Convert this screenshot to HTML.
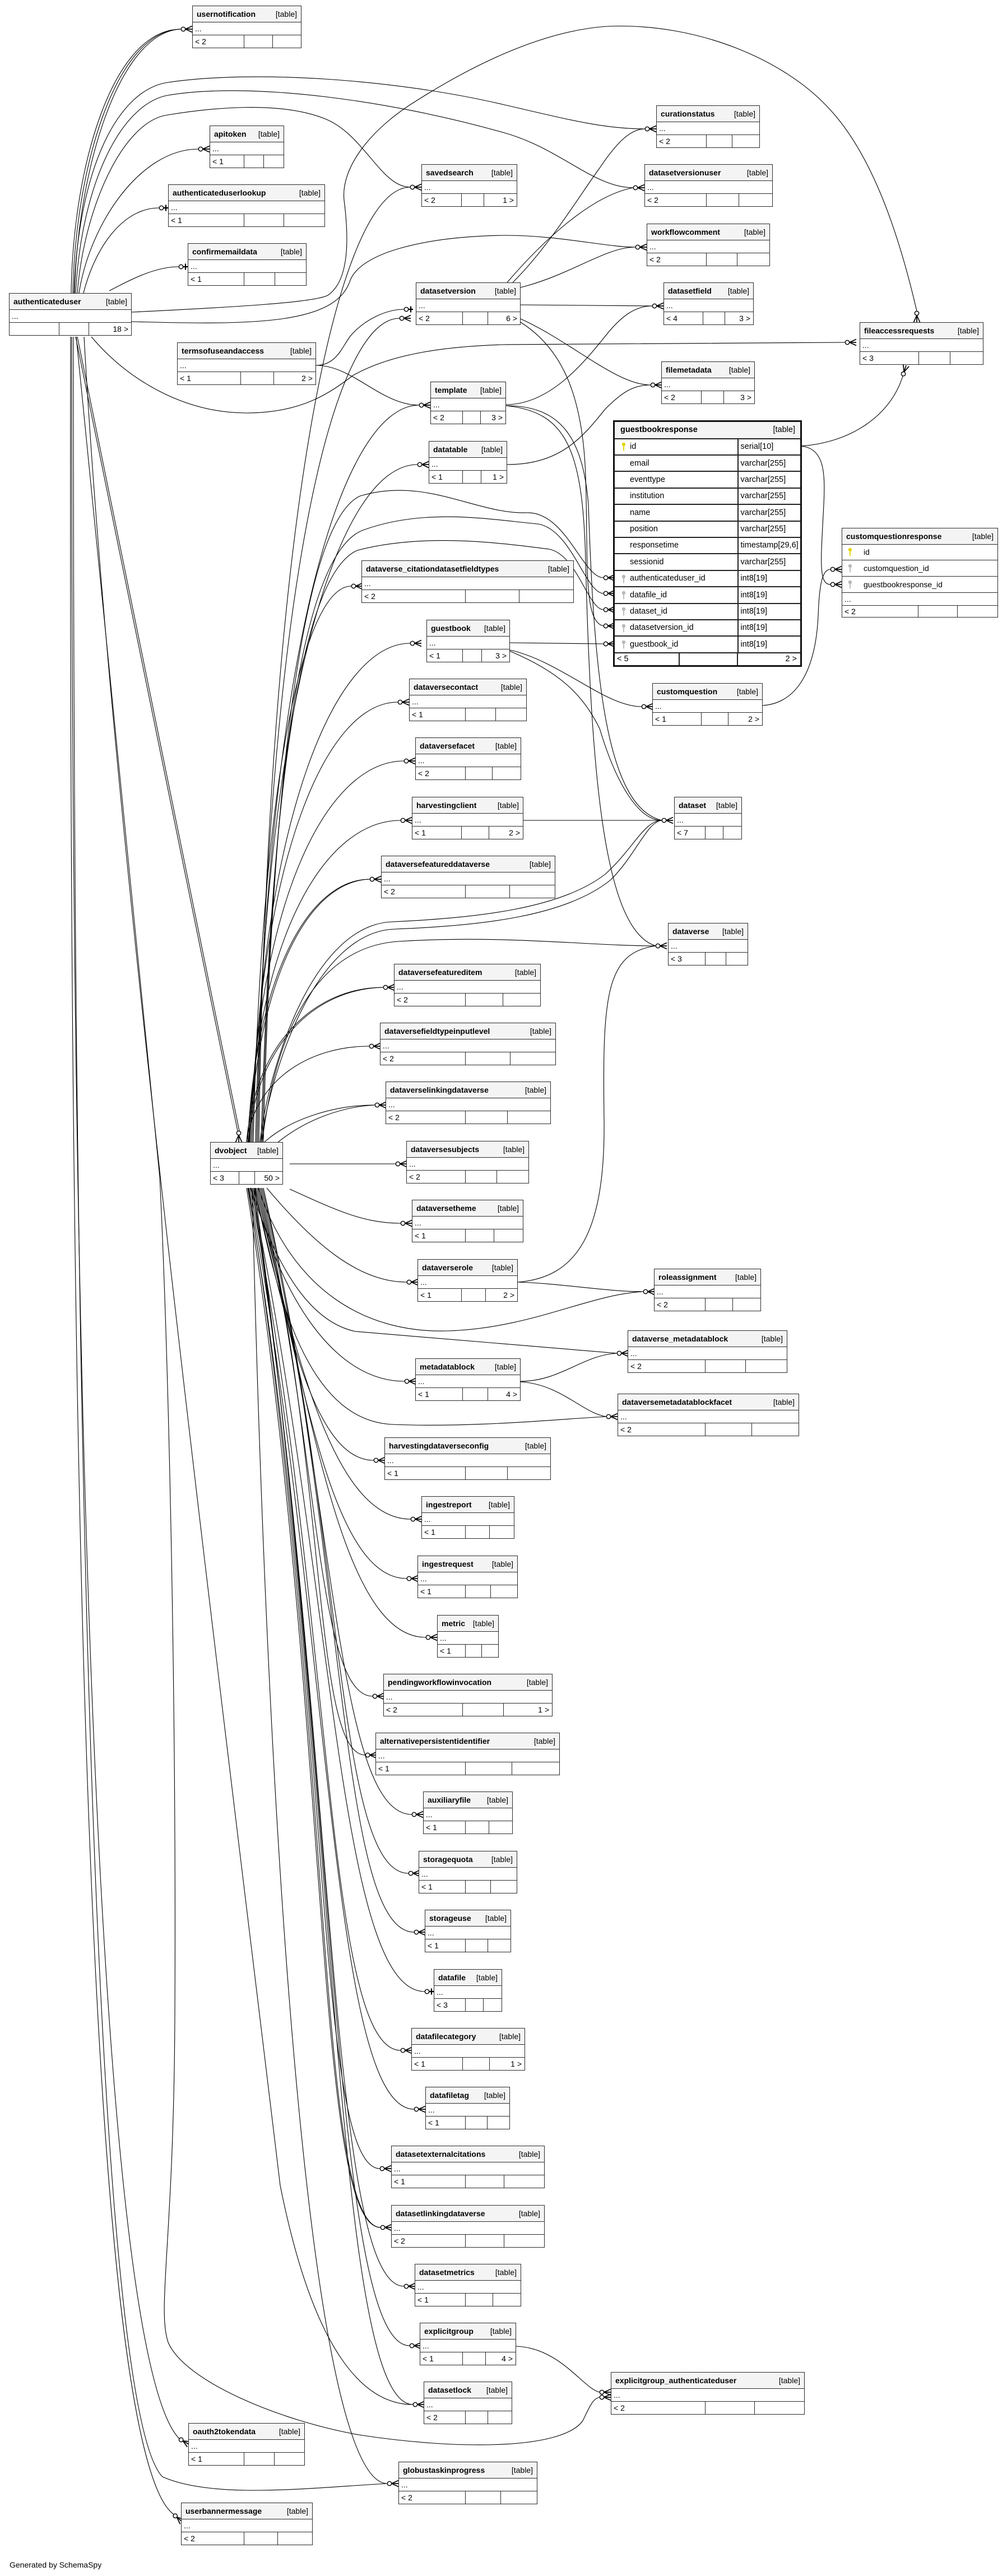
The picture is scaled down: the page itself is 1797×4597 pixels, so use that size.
<!DOCTYPE html>
<html><head><meta charset="utf-8"><style>
html,body{margin:0;padding:0}
body{width:1797px;height:4597px;position:relative;background:#fff;font-family:"Liberation Sans",Arial,sans-serif;overflow:hidden;color:#000}
svg.e{position:absolute;left:0;top:0;z-index:0}
.t{position:absolute;z-index:1;box-sizing:border-box;border:1.6px solid #2b2b2b;background:#fff;font-size:14px;line-height:1}
.h{height:27.5px;background:#f4f4f4;border-bottom:1.6px solid #2b2b2b;display:flex;justify-content:space-between;align-items:center;padding:0 7px;white-space:nowrap}
.h b{font-weight:bold}
.r{height:22px;border-bottom:1.6px solid #2b2b2b;padding-left:4px;display:flex;align-items:center}
.f{height:22px;display:flex}
.f i{font-style:normal;box-sizing:border-box;border-right:1.6px solid #2b2b2b;display:flex;align-items:center;padding-left:4px;flex:none;white-space:nowrap}
.f i:last-child{border-right:none;flex:1;justify-content:flex-end;padding-right:5px}
.ft{position:absolute;z-index:1;box-sizing:border-box;border:3px solid #111;background:#fff;font-size:14.5px;line-height:1}
.fh{height:28.7px;background:#f4f4f4;border-bottom:2px solid #222;display:flex;justify-content:space-between;align-items:center;padding:0 9px 0 10px}
.fr{height:27.4px;border-bottom:2px solid #222;display:flex}
.fr .c1{width:220.5px;box-sizing:border-box;border-right:2px solid #222;display:flex;align-items:center;padding-left:12px}
.fr .c2{flex:1;display:flex;align-items:center;padding-left:4px;white-space:nowrap}
.k{display:inline-block;width:8px;height:16px;margin-right:7px;flex:none}
.ff{height:21.6px;display:flex}
.ff i{font-style:normal;box-sizing:border-box;border-right:2px solid #222;display:flex;align-items:center;padding-left:4px;flex:none}
.ff i:last-child{border-right:none;flex:1;justify-content:flex-end;padding-right:6px}
.cq .rr{height:27.8px;border-bottom:1.6px solid #2b2b2b;display:flex;align-items:center;padding-left:10px}
.cq .rr .k{margin-right:20px}
.gen{position:absolute;left:17px;top:4569px;font-size:14px}
</style></head><body>

<svg class="e" width="1797" height="4597" viewBox="0 0 1797 4597" fill="none" stroke="#000" stroke-width="1.1">
<defs>
<g id="zm"><circle cx="-16" cy="0" r="3.7" fill="#fff" stroke-width="1.4"/><path d="M-12.3 0 L0 -5.5 M-12.3 0 L0 0 M-12.3 0 L0 5.5" stroke-width="1.7"/></g>
<g id="zo"><circle cx="-12" cy="0" r="3.7" fill="#fff" stroke-width="1.4"/><path d="M-8.3 0 H0 M-4 -5.5 V5.5" stroke-width="2.2"/></g>
</defs>
<!-- authenticateduser edges -->
<path d="M127 523 C130 300 200 52 323 52"/>
<path d="M130 523 C134 305 205 54 323 52"/>
<path d="M133 523 C138 310 210 57 323 52"/>
<path d="M141 523 C160 400 250 266 354 266"/>
<path d="M149 523 C170 440 220 371 284 371"/>
<path d="M195 519 C240 495 280 476 319 476"/>
<path d="M132 523 C140 300 210 160 300 147 C450 125 700 140 900 187 C1020 215 1080 230 1151 230"/>
<path d="M135 523 C145 330 215 185 300 170 C450 145 700 180 900 237 C1000 265 1060 335 1130 335"/>
<path d="M138 523 C150 370 220 215 300 205 C380 192 500 180 580 212 C650 240 680 334 732 334"/>
<path d="M235 557 C420 548 560 540 585 527 C625 500 622 420 614 357 C608 300 660 230 746 178 C830 125 960 55 1084 47 C1250 40 1400 110 1474 188 C1550 265 1600 400 1636 555"/>
<path d="M235 574 C450 580 600 580 625 500 C645 450 760 422 900 420 C1000 420 1080 441 1134 441"/>
<path d="M163 601 C230 680 330 737 440 737 C540 737 590 700 630 670 C700 630 800 618 900 615 C1100 612 1300 611 1508 611"/>
<path d="M135 601 L424 2018"/>
<path d="M138 601 L427 2018"/>
<path d="M136 601 L285 2100 C300 2400 315 3000 312 3600 C310 4000 280 4120 300 4180 C330 4250 500 4320 640 4345 C800 4370 1000 4375 1040 4320 C1052 4295 1058 4280 1070 4278"/>
<path d="M128 601 C126 2400 170 4200 320 4352"/>
<path d="M126 601 C122 2700 160 4380 310 4487"/>
<path d="M131 601 C130 2600 170 4300 290 4420 C380 4460 550 4440 691 4432"/>
<path d="M150 601 C200 1500 380 2900 500 3900 C560 4200 650 4291 737 4291"/>
<!-- termsofuseandaccess -->
<path d="M564 652 C600 652 610 620 625 600 C650 570 690 552 721 552"/>
<path d="M564 652 C630 652 680 723 748 723"/>
<!-- dvobject upper fan -->
<path d="M462 2038 C477 931 600 334 732 334"/>
<path d="M460 2038 C475 1083 589 568 713 568"/>
<path d="M458 2038 C473 1183 606 723 748 723"/>
<path d="M456 2038 C471 1252 603 829 745 829"/>
<path d="M452 2038 C467 1393 541 1046 627 1046"/>
<path d="M450 2038 C465 1460 598 1148 732 1148"/>
<path d="M448 2038 C463 1528 582 1253 710 1253"/>
<path d="M446 2038 C461 1596 586 1358 721 1358"/>
<path d="M444 2038 C459 1665 582 1464 715 1464"/>
<path d="M442 2038 C457 1733 554 1569 660 1569"/>
<path d="M445 2038 C460 1740 552 1572 660 1569"/>
<path d="M440 2038 C455 1859 564 1762 684 1762"/>
<path d="M443 2038 C458 1865 560 1765 684 1762"/>
<path d="M440 2038 C455 1927 552 1867 659 1867"/>
<path d="M472 2038 C520 1995 600 1972 669 1972"/>
<path d="M494 2040 C545 1998 610 1975 669 1972"/>
<path d="M464 2038 C480 1900 560 1650 700 1645 C850 1638 1000 1622 1080 1560 C1130 1515 1150 1464 1181 1464"/>
<path d="M466 2038 C484 1905 565 1662 705 1658 C860 1652 1010 1635 1090 1570 C1135 1525 1155 1466 1181 1464"/>
<path d="M468 2038 C490 1850 560 1690 711 1680 C900 1668 1050 1688 1170 1688"/>
<path d="M470 2038 C485 1400 540 930 643 885 C760 850 850 918 940 915 C1010 913 1040 1031 1077 1031"/>
<path d="M468 2038 C483 1450 530 990 648 946 C760 905 880 928 960 935 C1020 945 1045 1059 1077 1059"/>
<path d="M466 2038 C481 1500 525 1030 638 982 C760 950 900 970 980 980 C1030 990 1050 1088 1077 1088"/>
<!-- dvobject right side -->
<path d="M517 2077 L706 2077"/>
<path d="M517 2122 C600 2160 650 2183 715 2183"/>
<path d="M476 2120 C560 2220 640 2288 726 2288"/>
<path d="M461 2120 C520 2300 650 2380 800 2375 C950 2370 1050 2310 1148 2305"/>
<path d="M447 2120 C500 2280 560 2360 634 2376 L1101 2415"/>
<path d="M455 2120 C500 2350 560 2535 700 2542 C850 2548 1000 2532 1082 2528"/>
<!-- dvobject lower fan -->
<path d="M452 2120 C493 2292 587 2465 722 2465"/>
<path d="M454 2120 C512 2363 560 2606 667 2606"/>
<path d="M456 2120 C527 2415 594 2711 733 2711"/>
<path d="M458 2120 C542 2468 592 2817 726 2817"/>
<path d="M460 2120 C556 2521 610 2922 760 2922"/>
<path d="M462 2120 C571 2573 563 3027 665 3027"/>
<path d="M464 2120 C585 2626 558 3132 652 3132"/>
<path d="M466 2120 C600 2679 600 3238 735 3238"/>
<path d="M468 2120 C615 2731 598 3343 729 3343"/>
<path d="M470 2120 C620 2784 604 3448 739 3448"/>
<path d="M448 2120 C598 2837 603 3554 758 3554"/>
<path d="M446 2120 C596 2889 580 3659 715 3659"/>
<path d="M444 2120 C594 2942 591 3764 739 3764"/>
<path d="M442 2120 C592 2995 560 3870 678 3870"/>
<path d="M440 2120 C590 3047 560 3975 679 3975"/>
<path d="M443 2120 C593 3052 563 3972 679 3975"/>
<path d="M450 2120 C600 3100 585 4080 721 4080"/>
<path d="M452 2120 C602 3153 591 4186 731 4186"/>
<path d="M454 2120 C604 3205 595 4291 737 4291"/>
<path d="M450 2120 C480 3400 560 4432 691 4432"/>
<!-- other edges -->
<path d="M903 722 C980 722 1040 650 1080 600 C1110 562 1135 546 1164 546"/>
<path d="M903 724 C1000 724 1040 780 1050 900 C1060 1200 1080 1440 1181 1464"/>
<path d="M903 724 C1010 735 1040 800 1045 1000 C1055 1400 1080 1660 1170 1688"/>
<path d="M905 829 C1000 829 1040 780 1080 730 C1110 700 1130 687 1161 687"/>
<path d="M910 1147 L1077 1149"/>
<path d="M910 1160 C1000 1180 1080 1261 1145 1261"/>
<path d="M910 1162 C1000 1200 1040 1240 1070 1300 C1100 1400 1140 1464 1181 1464"/>
<path d="M934 1464 L1181 1464"/>
<path d="M915 504 C980 440 1040 340 1070 300 C1100 255 1125 230 1151 230"/>
<path d="M905 504 C960 440 1050 350 1130 335"/>
<path d="M929 513 C1020 490 1080 441 1134 441"/>
<path d="M929 544 L1164 546"/>
<path d="M929 569 C1020 610 1100 687 1161 687"/>
<path d="M929 575 C1000 620 1040 700 1045 850 C1050 1000 1040 1110 1077 1117"/>
<path d="M1429 796 C1520 790 1590 740 1611 671"/>
<path d="M1429 796 C1470 800 1473 840 1470 900 C1465 1000 1460 1043 1482 1043"/>
<path d="M1361 1259 C1420 1255 1455 1200 1460 1100 C1462 1040 1468 1016 1482 1016"/>
<path d="M924 2288 C1000 2290 1080 2305 1148 2305"/>
<path d="M924 2288 C1030 2280 1080 2200 1078 2000 C1075 1780 1080 1700 1170 1688"/>
<path d="M929 2465 C1000 2465 1040 2418 1101 2415"/>
<path d="M929 2466 C1000 2470 1040 2522 1082 2528"/>
<path d="M921 4187 C1000 4190 1040 4262 1070 4269"/>
<!-- markers -->
<use href="#zm" transform="translate(343,52)"/>
<use href="#zm" transform="translate(374,266)"/>
<use href="#zm" transform="translate(752,334)"/>
<use href="#zm" transform="translate(1171,230)"/>
<use href="#zm" transform="translate(1150,335)"/>
<use href="#zm" transform="translate(1154,441)"/>
<use href="#zm" transform="translate(733,568)"/>
<use href="#zm" transform="translate(1184,546)"/>
<use href="#zm" transform="translate(1528,611)"/>
<use href="#zm" transform="translate(1181,687)"/>
<use href="#zm" transform="translate(768,723)"/>
<use href="#zm" transform="translate(765,829)"/>
<use href="#zm" transform="translate(647,1046)"/>
<use href="#zm" transform="translate(752,1148)"/>
<use href="#zm" transform="translate(1165,1261)"/>
<use href="#zm" transform="translate(730,1253)"/>
<use href="#zm" transform="translate(741,1358)"/>
<use href="#zm" transform="translate(735,1464)"/>
<use href="#zm" transform="translate(1201,1464)"/>
<use href="#zm" transform="translate(680,1569)"/>
<use href="#zm" transform="translate(1190,1688)"/>
<use href="#zm" transform="translate(704,1762)"/>
<use href="#zm" transform="translate(679,1867)"/>
<use href="#zm" transform="translate(689,1972)"/>
<use href="#zm" transform="translate(726,2077)"/>
<use href="#zm" transform="translate(735,2183)"/>
<use href="#zm" transform="translate(746,2288)"/>
<use href="#zm" transform="translate(1168,2305)"/>
<use href="#zm" transform="translate(1121,2415)"/>
<use href="#zm" transform="translate(742,2465)"/>
<use href="#zm" transform="translate(1102,2528)"/>
<use href="#zm" transform="translate(687,2606)"/>
<use href="#zm" transform="translate(753,2711)"/>
<use href="#zm" transform="translate(746,2817)"/>
<use href="#zm" transform="translate(780,2922)"/>
<use href="#zm" transform="translate(685,3027)"/>
<use href="#zm" transform="translate(672,3132)"/>
<use href="#zm" transform="translate(755,3238)"/>
<use href="#zm" transform="translate(749,3343)"/>
<use href="#zm" transform="translate(759,3448)"/>
<use href="#zm" transform="translate(735,3659)"/>
<use href="#zm" transform="translate(759,3764)"/>
<use href="#zm" transform="translate(698,3870)"/>
<use href="#zm" transform="translate(699,3975)"/>
<use href="#zm" transform="translate(741,4080)"/>
<use href="#zm" transform="translate(751,4186)"/>
<use href="#zm" transform="translate(1090,4269)"/>
<use href="#zm" transform="translate(1090,4278)"/>
<use href="#zm" transform="translate(757,4291)"/>
<use href="#zm" transform="translate(711,4432)"/>
<use href="#zm" transform="translate(1097,1031)"/>
<use href="#zm" transform="translate(1097,1059)"/>
<use href="#zm" transform="translate(1097,1088)"/>
<use href="#zm" transform="translate(1097,1117)"/>
<use href="#zm" transform="translate(1097,1149)"/>
<use href="#zm" transform="translate(1502,1016)"/>
<use href="#zm" transform="translate(1502,1043)"/>
<use href="#zm" transform="translate(337,4362) rotate(30)"/>
<use href="#zm" transform="translate(325,4500) rotate(40)"/>
<use href="#zm" transform="translate(1636,575) rotate(90)"/>
<use href="#zm" transform="translate(1617,652) rotate(-72)"/>
<use href="#zm" transform="translate(426,2038) rotate(90)"/>
<use href="#zo" transform="translate(300,371)"/>
<use href="#zo" transform="translate(335,476)"/>
<use href="#zo" transform="translate(737,552)"/>
<use href="#zo" transform="translate(774,3554)"/>
</svg>

<div class="t" style="left:343px;top:10px;width:195px"><div class="h"><b>usernotification</b><span>[table]</span></div><div class="r">...</div><div class="f"><i style="width:92px">&lt; 2</i><i style="width:51px"></i><i></i></div></div>
<div class="t" style="left:374px;top:224px;width:133px"><div class="h"><b>apitoken</b><span>[table]</span></div><div class="r">...</div><div class="f"><i style="width:61px">&lt; 1</i><i style="width:35px"></i><i></i></div></div>
<div class="t" style="left:300px;top:329px;width:280px"><div class="h"><b>authenticateduserlookup</b><span>[table]</span></div><div class="r">...</div><div class="f"><i style="width:135px">&lt; 1</i><i style="width:71px"></i><i></i></div></div>
<div class="t" style="left:335px;top:434px;width:212px"><div class="h"><b>confirmemaildata</b><span>[table]</span></div><div class="r">...</div><div class="f"><i style="width:100px">&lt; 1</i><i style="width:55px"></i><i></i></div></div>
<div class="t" style="left:16px;top:523px;width:219px"><div class="h"><b>authenticateduser</b><span>[table]</span></div><div class="r">...</div><div class="f"><i style="width:89px"></i><i style="width:53px"></i><i>18 &gt;</i></div></div>
<div class="t" style="left:752px;top:293px;width:171px"><div class="h"><b>savedsearch</b><span>[table]</span></div><div class="r">...</div><div class="f"><i style="width:71px">&lt; 2</i><i style="width:40px"></i><i>1 &gt;</i></div></div>
<div class="t" style="left:1171px;top:188px;width:185px"><div class="h"><b>curationstatus</b><span>[table]</span></div><div class="r">...</div><div class="f"><i style="width:89px">&lt; 2</i><i style="width:46px"></i><i></i></div></div>
<div class="t" style="left:1150px;top:293px;width:229px"><div class="h"><b>datasetversionuser</b><span>[table]</span></div><div class="r">...</div><div class="f"><i style="width:110px">&lt; 2</i><i style="width:58px"></i><i></i></div></div>
<div class="t" style="left:1154px;top:399px;width:220px"><div class="h"><b>workflowcomment</b><span>[table]</span></div><div class="r">...</div><div class="f"><i style="width:106px">&lt; 2</i><i style="width:55px"></i><i></i></div></div>
<div class="t" style="left:742px;top:504px;width:187px"><div class="h"><b>datasetversion</b><span>[table]</span></div><div class="r">...</div><div class="f"><i style="width:83px">&lt; 2</i><i style="width:45px"></i><i>6 &gt;</i></div></div>
<div class="t" style="left:1184px;top:504px;width:161px"><div class="h"><b>datasetfield</b><span>[table]</span></div><div class="r">...</div><div class="f"><i style="width:70px">&lt; 4</i><i style="width:39px"></i><i>3 &gt;</i></div></div>
<div class="t" style="left:316px;top:611px;width:248px"><div class="h"><b>termsofuseandaccess</b><span>[table]</span></div><div class="r">...</div><div class="f"><i style="width:113px">&lt; 1</i><i style="width:59px"></i><i>2 &gt;</i></div></div>
<div class="t" style="left:1534px;top:575px;width:221px"><div class="h"><b>fileaccessrequests</b><span>[table]</span></div><div class="r">...</div><div class="f"><i style="width:105px">&lt; 3</i><i style="width:56px"></i><i></i></div></div>
<div class="t" style="left:1180px;top:645px;width:167px"><div class="h"><b>filemetadata</b><span>[table]</span></div><div class="r">...</div><div class="f"><i style="width:71px">&lt; 2</i><i style="width:40px"></i><i>3 &gt;</i></div></div>
<div class="t" style="left:768px;top:681px;width:135px"><div class="h"><b>template</b><span>[table]</span></div><div class="r">...</div><div class="f"><i style="width:57px">&lt; 2</i><i style="width:32px"></i><i>3 &gt;</i></div></div>
<div class="t" style="left:765px;top:787px;width:140px"><div class="h"><b>datatable</b><span>[table]</span></div><div class="r">...</div><div class="f"><i style="width:60px">&lt; 1</i><i style="width:33px"></i><i>1 &gt;</i></div></div>
<div class="t" style="left:645px;top:1000px;width:379px"><div class="h"><b>dataverse_citationdatasetfieldtypes</b><span>[table]</span></div><div class="r">...</div><div class="f"><i style="width:185px">&lt; 2</i><i style="width:96px"></i><i></i></div></div>
<div class="t" style="left:761px;top:1106px;width:149px"><div class="h"><b>guestbook</b><span>[table]</span></div><div class="r">...</div><div class="f"><i style="width:64px">&lt; 1</i><i style="width:34px"></i><i>3 &gt;</i></div></div>
<div class="t" style="left:1164px;top:1219px;width:197px"><div class="h"><b>customquestion</b><span>[table]</span></div><div class="r">...</div><div class="f"><i style="width:87px">&lt; 1</i><i style="width:48px"></i><i>2 &gt;</i></div></div>
<div class="t" style="left:730px;top:1211px;width:210px"><div class="h"><b>dataversecontact</b><span>[table]</span></div><div class="r">...</div><div class="f"><i style="width:100px">&lt; 1</i><i style="width:54px"></i><i></i></div></div>
<div class="t" style="left:741px;top:1316px;width:189px"><div class="h"><b>dataversefacet</b><span>[table]</span></div><div class="r">...</div><div class="f"><i style="width:89px">&lt; 2</i><i style="width:48px"></i><i></i></div></div>
<div class="t" style="left:735px;top:1422px;width:199px"><div class="h"><b>harvestingclient</b><span>[table]</span></div><div class="r">...</div><div class="f"><i style="width:88px">&lt; 1</i><i style="width:49px"></i><i>2 &gt;</i></div></div>
<div class="t" style="left:1203px;top:1422px;width:121px"><div class="h"><b>dataset</b><span>[table]</span></div><div class="r">...</div><div class="f"><i style="width:55px">&lt; 7</i><i style="width:32px"></i><i></i></div></div>
<div class="t" style="left:680px;top:1527px;width:311px"><div class="h"><b>dataversefeatureddataverse</b><span>[table]</span></div><div class="r">...</div><div class="f"><i style="width:150px">&lt; 2</i><i style="width:79px"></i><i></i></div></div>
<div class="t" style="left:1192px;top:1647px;width:143px"><div class="h"><b>dataverse</b><span>[table]</span></div><div class="r">...</div><div class="f"><i style="width:66px">&lt; 3</i><i style="width:37px"></i><i></i></div></div>
<div class="t" style="left:703px;top:1720px;width:262px"><div class="h"><b>dataversefeatureditem</b><span>[table]</span></div><div class="r">...</div><div class="f"><i style="width:127px">&lt; 2</i><i style="width:67px"></i><i></i></div></div>
<div class="t" style="left:678px;top:1825px;width:314px"><div class="h"><b>dataversefieldtypeinputlevel</b><span>[table]</span></div><div class="r">...</div><div class="f"><i style="width:152px">&lt; 2</i><i style="width:80px"></i><i></i></div></div>
<div class="t" style="left:688px;top:1930px;width:295px"><div class="h"><b>dataverselinkingdataverse</b><span>[table]</span></div><div class="r">...</div><div class="f"><i style="width:142px">&lt; 2</i><i style="width:75px"></i><i></i></div></div>
<div class="t" style="left:375px;top:2038px;width:130px"><div class="h"><b>dvobject</b><span>[table]</span></div><div class="r">...</div><div class="f"><i style="width:51px">&lt; 3</i><i style="width:28px"></i><i>50 &gt;</i></div></div>
<div class="t" style="left:725px;top:2036px;width:219px"><div class="h"><b>dataversesubjects</b><span>[table]</span></div><div class="r">...</div><div class="f"><i style="width:105px">&lt; 2</i><i style="width:56px"></i><i></i></div></div>
<div class="t" style="left:735px;top:2141px;width:199px"><div class="h"><b>dataversetheme</b><span>[table]</span></div><div class="r">...</div><div class="f"><i style="width:95px">&lt; 1</i><i style="width:51px"></i><i></i></div></div>
<div class="t" style="left:745px;top:2247px;width:179px"><div class="h"><b>dataverserole</b><span>[table]</span></div><div class="r">...</div><div class="f"><i style="width:78px">&lt; 1</i><i style="width:43px"></i><i>2 &gt;</i></div></div>
<div class="t" style="left:1167px;top:2264px;width:191px"><div class="h"><b>roleassignment</b><span>[table]</span></div><div class="r">...</div><div class="f"><i style="width:91px">&lt; 2</i><i style="width:49px"></i><i></i></div></div>
<div class="t" style="left:1120px;top:2374px;width:285px"><div class="h"><b>dataverse_metadatablock</b><span>[table]</span></div><div class="r">...</div><div class="f"><i style="width:138px">&lt; 2</i><i style="width:72px"></i><i></i></div></div>
<div class="t" style="left:741px;top:2424px;width:188px"><div class="h"><b>metadatablock</b><span>[table]</span></div><div class="r">...</div><div class="f"><i style="width:84px">&lt; 1</i><i style="width:45px"></i><i>4 &gt;</i></div></div>
<div class="t" style="left:1102px;top:2487px;width:324px"><div class="h"><b>dataversemetadatablockfacet</b><span>[table]</span></div><div class="r">...</div><div class="f"><i style="width:156px">&lt; 2</i><i style="width:83px"></i><i></i></div></div>
<div class="t" style="left:686px;top:2565px;width:297px"><div class="h"><b>harvestingdataverseconfig</b><span>[table]</span></div><div class="r">...</div><div class="f"><i style="width:144px">&lt; 1</i><i style="width:75px"></i><i></i></div></div>
<div class="t" style="left:752px;top:2670px;width:166px"><div class="h"><b>ingestreport</b><span>[table]</span></div><div class="r">...</div><div class="f"><i style="width:78px">&lt; 1</i><i style="width:43px"></i><i></i></div></div>
<div class="t" style="left:745px;top:2776px;width:179px"><div class="h"><b>ingestrequest</b><span>[table]</span></div><div class="r">...</div><div class="f"><i style="width:85px">&lt; 1</i><i style="width:45px"></i><i></i></div></div>
<div class="t" style="left:780px;top:2882px;width:110px"><div class="h"><b>metric</b><span>[table]</span></div><div class="r">...</div><div class="f"><i style="width:50px">&lt; 1</i><i style="width:29px"></i><i></i></div></div>
<div class="t" style="left:684px;top:2987px;width:302px"><div class="h"><b>pendingworkflowinvocation</b><span>[table]</span></div><div class="r">...</div><div class="f"><i style="width:141px">&lt; 2</i><i style="width:73px"></i><i>1 &gt;</i></div></div>
<div class="t" style="left:670px;top:3092px;width:329px"><div class="h"><b>alternativepersistentidentifier</b><span>[table]</span></div><div class="r">...</div><div class="f"><i style="width:160px">&lt; 1</i><i style="width:83px"></i><i></i></div></div>
<div class="t" style="left:755px;top:3197px;width:160px"><div class="h"><b>auxiliaryfile</b><span>[table]</span></div><div class="r">...</div><div class="f"><i style="width:75px">&lt; 1</i><i style="width:42px"></i><i></i></div></div>
<div class="t" style="left:747px;top:3303px;width:176px"><div class="h"><b>storagequota</b><span>[table]</span></div><div class="r">...</div><div class="f"><i style="width:83px">&lt; 1</i><i style="width:45px"></i><i></i></div></div>
<div class="t" style="left:758px;top:3408px;width:154px"><div class="h"><b>storageuse</b><span>[table]</span></div><div class="r">...</div><div class="f"><i style="width:72px">&lt; 1</i><i style="width:40px"></i><i></i></div></div>
<div class="t" style="left:774px;top:3514px;width:122px"><div class="h"><b>datafile</b><span>[table]</span></div><div class="r">...</div><div class="f"><i style="width:56px">&lt; 3</i><i style="width:32px"></i><i></i></div></div>
<div class="t" style="left:734px;top:3619px;width:203px"><div class="h"><b>datafilecategory</b><span>[table]</span></div><div class="r">...</div><div class="f"><i style="width:91px">&lt; 1</i><i style="width:48px"></i><i>1 &gt;</i></div></div>
<div class="t" style="left:759px;top:3724px;width:151px"><div class="h"><b>datafiletag</b><span>[table]</span></div><div class="r">...</div><div class="f"><i style="width:71px">&lt; 1</i><i style="width:39px"></i><i></i></div></div>
<div class="t" style="left:698px;top:3829px;width:274px"><div class="h"><b>datasetexternalcitations</b><span>[table]</span></div><div class="r">...</div><div class="f"><i style="width:132px">&lt; 1</i><i style="width:69px"></i><i></i></div></div>
<div class="t" style="left:698px;top:3935px;width:274px"><div class="h"><b>datasetlinkingdataverse</b><span>[table]</span></div><div class="r">...</div><div class="f"><i style="width:132px">&lt; 2</i><i style="width:69px"></i><i></i></div></div>
<div class="t" style="left:740px;top:4040px;width:190px"><div class="h"><b>datasetmetrics</b><span>[table]</span></div><div class="r">...</div><div class="f"><i style="width:90px">&lt; 1</i><i style="width:49px"></i><i></i></div></div>
<div class="t" style="left:749px;top:4145px;width:172px"><div class="h"><b>explicitgroup</b><span>[table]</span></div><div class="r">...</div><div class="f"><i style="width:76px">&lt; 1</i><i style="width:41px"></i><i>4 &gt;</i></div></div>
<div class="t" style="left:1090px;top:4233px;width:346px"><div class="h"><b>explicitgroup_authenticateduser</b><span>[table]</span></div><div class="r">...</div><div class="f"><i style="width:168px">&lt; 2</i><i style="width:88px"></i><i></i></div></div>
<div class="t" style="left:756px;top:4250px;width:158px"><div class="h"><b>datasetlock</b><span>[table]</span></div><div class="r">...</div><div class="f"><i style="width:74px">&lt; 2</i><i style="width:40px"></i><i></i></div></div>
<div class="t" style="left:336px;top:4324px;width:208px"><div class="h"><b>oauth2tokendata</b><span>[table]</span></div><div class="r">...</div><div class="f"><i style="width:99px">&lt; 1</i><i style="width:54px"></i><i></i></div></div>
<div class="t" style="left:711px;top:4393px;width:248px"><div class="h"><b>globustaskinprogress</b><span>[table]</span></div><div class="r">...</div><div class="f"><i style="width:119px">&lt; 2</i><i style="width:63px"></i><i></i></div></div>
<div class="t" style="left:323px;top:4466px;width:235px"><div class="h"><b>userbannermessage</b><span>[table]</span></div><div class="r">...</div><div class="f"><i style="width:112px">&lt; 2</i><i style="width:60px"></i><i></i></div></div>

<!-- focus table -->
<div class="ft" style="left:1094px;top:750px;width:337px;height:440px">
<div class="fh"><b>guestbookresponse</b><span>[table]</span></div>
<div class="fr"><div class="c1"><svg class="k" viewBox="0 0 8 16"><circle cx="4" cy="4" r="3.2" fill="#e2d400"/><rect x="3.1" y="6" width="1.8" height="9.5" fill="#e2d400"/></svg>id</div><div class="c2">serial[10]</div></div>
<div class="fr"><div class="c1"><span class="k"></span>email</div><div class="c2">varchar[255]</div></div>
<div class="fr"><div class="c1"><span class="k"></span>eventtype</div><div class="c2">varchar[255]</div></div>
<div class="fr"><div class="c1"><span class="k"></span>institution</div><div class="c2">varchar[255]</div></div>
<div class="fr"><div class="c1"><span class="k"></span>name</div><div class="c2">varchar[255]</div></div>
<div class="fr"><div class="c1"><span class="k"></span>position</div><div class="c2">varchar[255]</div></div>
<div class="fr"><div class="c1"><span class="k"></span>responsetime</div><div class="c2">timestamp[29,6]</div></div>
<div class="fr"><div class="c1"><span class="k"></span>sessionid</div><div class="c2">varchar[255]</div></div>
<div class="fr"><div class="c1"><svg class="k" viewBox="0 0 8 16"><circle cx="4" cy="4" r="3.2" fill="#b8b8b8"/><rect x="3.1" y="6" width="1.8" height="9.5" fill="#b8b8b8"/></svg>authenticateduser_id</div><div class="c2">int8[19]</div></div>
<div class="fr"><div class="c1"><svg class="k" viewBox="0 0 8 16"><circle cx="4" cy="4" r="3.2" fill="#b8b8b8"/><rect x="3.1" y="6" width="1.8" height="9.5" fill="#b8b8b8"/></svg>datafile_id</div><div class="c2">int8[19]</div></div>
<div class="fr"><div class="c1"><svg class="k" viewBox="0 0 8 16"><circle cx="4" cy="4" r="3.2" fill="#b8b8b8"/><rect x="3.1" y="6" width="1.8" height="9.5" fill="#b8b8b8"/></svg>dataset_id</div><div class="c2">int8[19]</div></div>
<div class="fr"><div class="c1"><svg class="k" viewBox="0 0 8 16"><circle cx="4" cy="4" r="3.2" fill="#b8b8b8"/><rect x="3.1" y="6" width="1.8" height="9.5" fill="#b8b8b8"/></svg>datasetversion_id</div><div class="c2">int8[19]</div></div>
<div class="fr"><div class="c1"><svg class="k" viewBox="0 0 8 16"><circle cx="4" cy="4" r="3.2" fill="#b8b8b8"/><rect x="3.1" y="6" width="1.8" height="9.5" fill="#b8b8b8"/></svg>guestbook_id</div><div class="c2">int8[19]</div></div>
<div class="ff"><i style="width:116px">&lt; 5</i><i style="width:104px"></i><i>2 &gt;</i></div>
</div>

<div class="t cq" style="left:1502px;top:942px;width:279px">
<div class="h"><b>customquestionresponse</b><span>[table]</span></div>
<div class="rr"><svg class="k" viewBox="0 0 8 16"><circle cx="4" cy="4" r="3.2" fill="#e2d400"/><rect x="3.1" y="6" width="1.8" height="9.5" fill="#e2d400"/></svg>id</div>
<div class="rr"><svg class="k" viewBox="0 0 8 16"><circle cx="4" cy="4" r="3.2" fill="#b8b8b8"/><rect x="3.1" y="6" width="1.8" height="9.5" fill="#b8b8b8"/></svg>customquestion_id</div>
<div class="rr"><svg class="k" viewBox="0 0 8 16"><circle cx="4" cy="4" r="3.2" fill="#b8b8b8"/><rect x="3.1" y="6" width="1.8" height="9.5" fill="#b8b8b8"/></svg>guestbookresponse_id</div>
<div class="r">...</div>
<div class="f" style="height:20.4px"><i style="width:136px">&lt; 2</i><i style="width:70px"></i><i></i></div>
</div>

<div class="gen">Generated by SchemaSpy</div>
</body></html>
